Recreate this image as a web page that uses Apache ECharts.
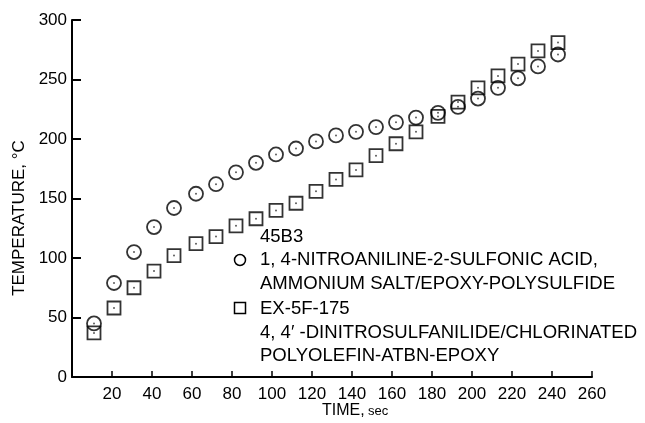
<!DOCTYPE html>
<html><head><meta charset="utf-8">
<script src="https://cdn.jsdelivr.net/npm/echarts@6/dist/echarts.min.js"></script>
<style>html,body{margin:0;padding:0;background:#fff}#c{width:645px;height:423px}</style>
</head><body><div id="c"></div>
<script>
var timeSec = [11,21,31,41,51,62,72,82,92,102,112,122,132,142,152,162,172,183,193,203,213,223,233,243];
var tempNitroaniline = [45,79,105,126,142,154,162,172,180,187,192,198,203,206,210,214,218,222,227,234,243,251,261,271];
var tempDinitro = [37,58,75,89,102,112,118,127,133,140,146,156,166,174,186,196,206,219,231,243,253,263,274,281];
var xTicks = {min:0, max:260, interval:20};
var yTicks = {min:0, max:300, interval:50};

function pairs(xs, ys){ return xs.map(function(x,i){ return [x, ys[i]]; }); }
var F = "'Liberation Sans', Arial, sans-serif";
var chart = echarts.init(document.getElementById('c'));
var outline = {color:'rgba(0,0,0,0)', borderColor:'#000', borderWidth:1.8};
function legendText(x, y, t){
  return {type:'text', x:x, y:y, scaleX:1.03, style:{text:t, fill:'#000', font:'18px '+F, textVerticalAlign:'middle'}};
}
chart.setOption({
  animation:false,
  grid:{left:72, right:53, top:20, bottom:46},
  xAxis:{type:'value', min:xTicks.min, max:xTicks.max, interval:xTicks.interval,
    axisLine:{lineStyle:{color:'#000', width:2}},
    axisTick:{inside:true, length:6, lineStyle:{color:'#000', width:1.5}},
    splitLine:{show:false},
    axisLabel:{color:'#000', fontFamily:F, fontSize:17, margin:9,
      formatter:function(v){ return v===0 ? '' : String(v); }}
  },
  yAxis:{type:'value', min:yTicks.min, max:yTicks.max, interval:yTicks.interval,
    axisLine:{lineStyle:{color:'#000', width:2}},
    axisTick:{inside:true, length:9, lineStyle:{color:'#000', width:2}},
    splitLine:{show:false},
    axisLabel:{color:'#000', fontFamily:F, fontSize:17, margin:5}
  },
  series:[
    {type:'scatter', symbol:'circle', symbolSize:14, itemStyle:outline, data:pairs(timeSec,tempNitroaniline), z:3},
    {type:'scatter', symbol:'rect', symbolSize:13, itemStyle:outline, data:pairs(timeSec,tempDinitro), z:3},
    {type:'scatter', symbol:'circle', symbolSize:2, itemStyle:{color:'#333'}, data:pairs(timeSec,tempNitroaniline), z:4},
    {type:'scatter', symbol:'circle', symbolSize:2, itemStyle:{color:'#333'}, data:pairs(timeSec,tempDinitro), z:4}
  ],
  graphic:[
    {type:'text', x:19, y:218, rotation:Math.PI/2, style:{text:'TEMPERATURE, °C', fill:'#000', font:'17px '+F, textAlign:'center', textVerticalAlign:'middle'}},
    {type:'text', x:322, y:411, style:{rich:{a:{font:'16px '+F, fill:'#000'}, b:{font:'13px '+F, fill:'#000'}}, text:'{a|TIME,} {b|sec}', textVerticalAlign:'middle'}},
    {type:'circle', shape:{cx:240, cy:260, r:5.5}, style:{fill:'none', stroke:'#000', lineWidth:1.5}},
    {type:'rect', shape:{x:234.5, y:302.5, width:11, height:11}, style:{fill:'none', stroke:'#000', lineWidth:1.5}},
    legendText(260, 237, '45B3'),
    legendText(260, 260, '1, 4-NITROANILINE-2-SULFONIC ACID,'),
    legendText(260, 284, 'AMMONIUM SALT/EPOXY-POLYSULFIDE'),
    legendText(260, 309, 'EX-5F-175'),
    legendText(260, 333, '4, 4\u2032 -DINITROSULFANILIDE/CHLORINATED'),
    legendText(260, 356, 'POLYOLEFIN-ATBN-EPOXY')
  ]
});
</script></body></html>
